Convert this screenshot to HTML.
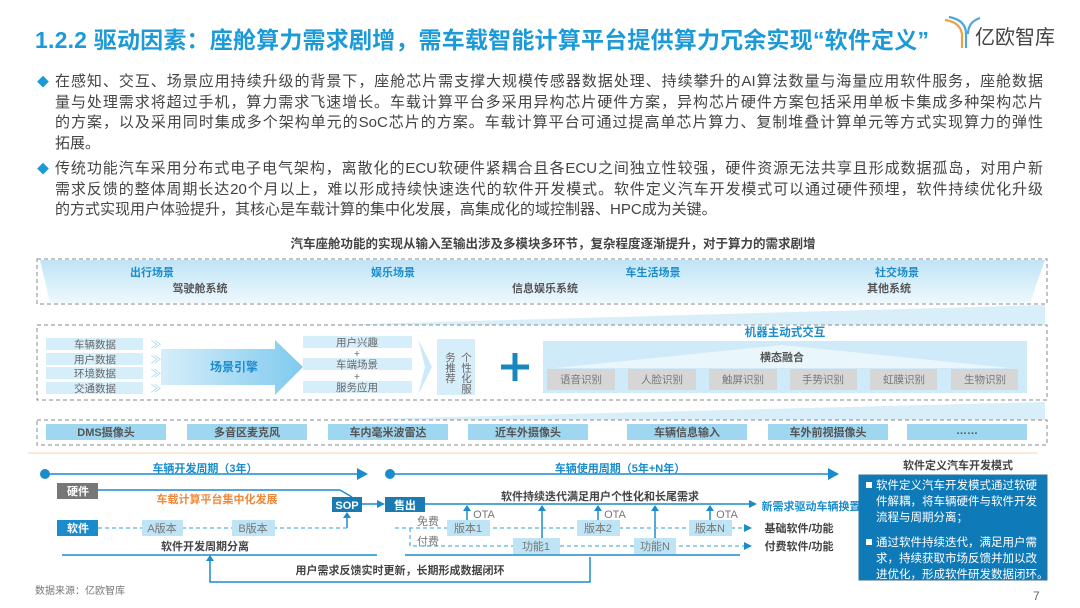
<!DOCTYPE html>
<html><head><meta charset="utf-8"><style>
body{margin:0;width:1080px;height:608px;background:#fff;overflow:hidden;font-family:"Liberation Sans","Noto Sans CJK SC",sans-serif;position:relative}
.t{position:absolute;left:35px;top:21px;font-size:23px;font-weight:bold;color:#1c9ad8;white-space:nowrap;letter-spacing:0.2px}
.p{position:absolute;left:55px;width:988px;font-size:15px;line-height:20.7px;color:#444}
.p div{text-align:justify;text-align-last:justify;white-space:nowrap}
.p div.l{text-align-last:left}
.p:before{content:"◆";position:absolute;left:-18px;top:0;color:#1c9ad8;font-size:12px}
svg{position:absolute;left:0;top:0}
svg text{font-family:"Liberation Sans","Noto Sans CJK SC",sans-serif}
</style></head><body>
<div class="t">1.2.2 驱动因素：座舱算力需求剧增，需车载智能计算平台提供算力冗余实现“软件定义”</div>
<div class="p" style="top:72px"><div>在感知、交互、场景应用持续升级的背景下，座舱芯片需支撑大规模传感器数据处理、持续攀升的AI算法数量与海量应用软件服务，座舱数据</div><div>量与处理需求将超过手机，算力需求飞速增长。车载计算平台多采用异构芯片硬件方案，异构芯片硬件方案包括采用单板卡集成多种架构芯片</div><div>的方案，以及采用同时集成多个架构单元的SoC芯片的方案。车载计算平台可通过提高单芯片算力、复制堆叠计算单元等方式实现算力的弹性</div><div class="l">拓展。</div></div>
<div class="p" style="top:159px"><div>传统功能汽车采用分布式电子电气架构，离散化的ECU软硬件紧耦合且各ECU之间独立性较强，硬件资源无法共享且形成数据孤岛，对用户新</div><div>需求反馈的整体周期长达20个月以上，难以形成持续快速迭代的软件开发模式。软件定义汽车开发模式可以通过硬件预埋，软件持续优化升级</div><div class="l">的方式实现用户体验提升，其核心是车载计算的集中化发展，高集成化的域控制器、HPC成为关键。</div></div>
<svg width="1080" height="608" viewBox="0 0 1080 608">
<defs>
<linearGradient id="lb" x1="0" y1="0" x2="0" y2="1"><stop offset="0" stop-color="#bfe4f6"/><stop offset="1" stop-color="#eef8fd"/></linearGradient>
<linearGradient id="ar" x1="0" y1="0" x2="1" y2="0"><stop offset="0" stop-color="#d6eefa"/><stop offset="1" stop-color="#7fcaee"/></linearGradient>
<marker id="m" markerWidth="8" markerHeight="8" refX="6" refY="4" orient="auto" markerUnits="userSpaceOnUse"><path d="M0,0 L8,4 L0,8z" fill="#1a8ccc"/></marker>
</defs>
<g fill="none" stroke-width="2.2"><path d="M945,20 Q960,22 962,34 L962,48" stroke="#f0a040"/><path d="M949,17 Q966,20 966,34 L966,48" stroke="#4aa8e0"/><path d="M980,18 Q968,22 968,34" stroke="#4aa8e0"/></g>
<text x="975" y="44" font-size="20" fill="#444">亿欧智库</text>
<text x="553" y="248" font-size="12.5" font-weight="bold" fill="#444" text-anchor="middle">汽车座舱功能的实现从输入至输出涉及多模块多环节，复杂程度逐渐提升，对于算力的需求剧增</text>
<polygon points="40,260 1045,260 1030,303 50,303" fill="url(#lb)"/>
<rect x="37" y="259" width="1010" height="45" fill="none" stroke="#888" stroke-dasharray="4,3"/>
<g font-size="11" font-weight="bold" text-anchor="middle">
<text x="152" y="276" fill="#1a8ccc">出行场景</text><text x="200" y="292" fill="#555">驾驶舱系统</text>
<text x="393" y="276" fill="#1a8ccc">娱乐场景</text><text x="545" y="292" fill="#555">信息娱乐系统</text>
<text x="653" y="276" fill="#1a8ccc">车生活场景</text>
<text x="897" y="276" fill="#1a8ccc">社交场景</text><text x="889" y="292" fill="#555">其他系统</text>
</g>
<polygon points="330,325 1045,305 1045,325" fill="#d8eff9"/>
<rect x="37" y="325" width="1010" height="75" fill="none" stroke="#888" stroke-dasharray="4,3"/>
<g font-size="10.5" fill="#666" text-anchor="middle">
<rect x="46" y="338" width="97" height="12" fill="#d6eef9"/><text x="95" y="348">车辆数据</text>
<rect x="46" y="353" width="97" height="12" fill="#d6eef9"/><text x="95" y="363">用户数据</text>
<rect x="46" y="367" width="97" height="12" fill="#d6eef9"/><text x="95" y="377">环境数据</text>
<rect x="46" y="382" width="97" height="12" fill="#d6eef9"/><text x="95" y="392">交通数据</text>
<g fill="#9fd3ef" font-size="11"><text x="156" y="348">≫</text><text x="156" y="363">≫</text><text x="156" y="377">≫</text><text x="156" y="392">≫</text></g>
<polygon points="161,349 275,349 275,340 303,367 275,395 275,385 161,385" fill="url(#ar)"/>
<text x="234" y="371" font-size="12" font-weight="bold" fill="#1a8ccc">场景引擎</text>
<rect x="303" y="336" width="109" height="12" fill="#d6eef9"/><text x="357" y="346">用户兴趣</text>
<text x="357" y="357">+</text>
<rect x="303" y="358" width="109" height="12" fill="#d6eef9"/><text x="357" y="368">车端场景</text>
<text x="357" y="380">+</text>
<rect x="303" y="381" width="109" height="12" fill="#d6eef9"/><text x="357" y="391">服务应用</text>
<polygon points="418,339 432,367 418,395 425,367" fill="#cde9f7"/>
<rect x="437" y="339" width="38" height="56" fill="#d6eef9"/>
<text x="466" y="352" font-size="10.5" text-anchor="start" style="writing-mode:vertical-rl">个性化服</text>
<text x="450" y="352" font-size="10.5" text-anchor="start" style="writing-mode:vertical-rl">务推荐</text>
</g>
<path d="M515,353 V381 M501,367 H529" stroke="#1787c0" stroke-width="5"/>
<text x="785" y="336" font-size="11.5" font-weight="bold" fill="#1a8ccc" text-anchor="middle">机器主动式交互</text>
<rect x="543" y="341" width="484" height="52" fill="#cfeaf8"/>
<polygon points="555,368 782,345 1010,368" fill="#e9f6fc"/>
<text x="782" y="361" font-size="11" font-weight="bold" fill="#555" text-anchor="middle">横态融合</text>
<g font-size="10.5" fill="#777" text-anchor="middle">
<rect x="547" y="369" width="68" height="21" fill="#d6d6d6"/><text x="581" y="383">语音识别</text>
<rect x="628" y="369" width="68" height="21" fill="#d6d6d6"/><text x="662" y="383">人脸识别</text>
<rect x="709" y="369" width="68" height="21" fill="#d6d6d6"/><text x="743" y="383">触屏识别</text>
<rect x="790" y="369" width="67" height="21" fill="#d6d6d6"/><text x="823" y="383">手势识别</text>
<rect x="870" y="369" width="67" height="21" fill="#d6d6d6"/><text x="904" y="383">虹膜识别</text>
<rect x="951" y="369" width="67" height="21" fill="#d6d6d6"/><text x="985" y="383">生物识别</text>
</g>
<polygon points="330,420 1045,402 1045,420" fill="#d8eff9"/>
<rect x="37" y="420" width="1010" height="25" fill="none" stroke="#888" stroke-dasharray="4,3"/>
<g font-size="11" font-weight="bold" fill="#555" text-anchor="middle">
<rect x="46" y="424" width="120" height="16" fill="#9fd6f0"/><text x="106" y="436">DMS摄像头</text>
<rect x="187" y="424" width="120" height="16" fill="#9fd6f0"/><text x="247" y="436">多音区麦克风</text>
<rect x="328" y="424" width="120" height="16" fill="#9fd6f0"/><text x="388" y="436">车内毫米波雷达</text>
<rect x="468" y="424" width="120" height="16" fill="#9fd6f0"/><text x="528" y="436">近车外摄像头</text>
<rect x="627" y="424" width="120" height="16" fill="#9fd6f0"/><text x="687" y="436">车辆信息输入</text>
<rect x="768" y="424" width="120" height="16" fill="#9fd6f0"/><text x="828" y="436">车外前视摄像头</text>
<rect x="907" y="424" width="120" height="16" fill="#9fd6f0"/><text x="967" y="434">……</text>
</g>
<line x1="28" y1="453" x2="1037" y2="453" stroke="#f8dcc0" stroke-width="1.2"/>
<g stroke="#1a8ccc" stroke-width="1.5" fill="none">
<line x1="45" y1="474" x2="358" y2="474"/><line x1="390" y1="474" x2="830" y2="474"/>
<line x1="98" y1="490" x2="340" y2="490"/><line x1="340" y1="490" x2="352" y2="497"/>
<line x1="362" y1="504" x2="383" y2="504" marker-end="url(#m)"/>
<line x1="425" y1="504" x2="755" y2="504" marker-end="url(#m)"/>
<line x1="62" y1="555" x2="377" y2="555"/><line x1="405" y1="555" x2="740" y2="555"/>
<polyline points="590,557 590,582 210,582 210,560"/>
<line x1="347" y1="528" x2="347" y2="515"/>
<line x1="467" y1="520" x2="467" y2="508"/><line x1="598" y1="520" x2="598" y2="508"/><line x1="710" y1="520" x2="710" y2="508"/>
<line x1="542" y1="538" x2="542" y2="508"/><line x1="655" y1="538" x2="655" y2="508"/>
</g>
<g fill="#1a8ccc"><circle cx="45" cy="474" r="5"/><circle cx="390" cy="474" r="5"/>
<path d="M357,468 L368,474 L357,480z"/><path d="M828,468 L839,474 L828,480z"/>
<path d="M206,561 L210,555 L214,561z"/><path d="M343,518 L347,512 L351,518z"/>
<path d="M463,511 L467,505 L471,511z"/><path d="M594,511 L598,505 L602,511z"/><path d="M706,511 L710,505 L714,511z"/>
<path d="M538,511 L542,505 L546,511z"/><path d="M651,511 L655,505 L659,511z"/></g>
<g stroke="#5ab4e0" stroke-width="1.3" stroke-dasharray="4,3" fill="none">
<line x1="98" y1="528" x2="347" y2="528"/>
<line x1="395" y1="528" x2="750" y2="528" marker-end="url(#m)"/>
<polyline points="410,528 410,546 750,546" marker-end="url(#m)"/>
</g>
<g font-size="11" font-weight="bold" text-anchor="middle">
<text x="205" y="472" fill="#1a8ccc">车辆开发周期（3年）</text>
<text x="620" y="472" fill="#1a8ccc">车辆使用周期（5年+N年）</text>
<rect x="57" y="483" width="41" height="16" fill="#777"/><text x="78" y="495" fill="#fff">硬件</text>
<text x="217" y="503" fill="#f0883a">车载计算平台集中化发展</text>
<rect x="332" y="497" width="30" height="15" fill="#1a7bb3"/><text x="347" y="509" fill="#fff">SOP</text>
<rect x="385" y="497" width="40" height="15" fill="#1a7bb3"/><text x="405" y="509" fill="#fff">售出</text>
<text x="600" y="500" fill="#444">软件持续迭代满足用户个性化和长尾需求</text>
<text x="811" y="510" fill="#1a8ccc">新需求驱动车辆换置</text>
<rect x="57" y="520" width="41" height="16" fill="#1a8ccc"/><text x="78" y="532" fill="#fff">软件</text>
<text x="205" y="550" fill="#444">软件开发周期分离</text>
<text x="400" y="574" fill="#444">用户需求反馈实时更新，长期形成数据闭环</text>
<text x="799" y="532" fill="#444">基础软件/功能</text>
<text x="799" y="550" fill="#444">付费软件/功能</text>
<text x="958" y="469" fill="#444">软件定义汽车开发模式</text>
</g>
<g font-size="11" fill="#777" text-anchor="middle">
<rect x="142" y="520" width="41" height="16" fill="#bfe4f6"/><text x="162" y="532">A版本</text>
<rect x="232" y="520" width="43" height="16" fill="#bfe4f6"/><text x="253" y="532">B版本</text>
<rect x="447" y="520" width="43" height="16" fill="#bfe4f6"/><text x="468" y="532">版本1</text>
<rect x="577" y="520" width="43" height="16" fill="#bfe4f6"/><text x="598" y="532">版本2</text>
<rect x="689" y="520" width="43" height="16" fill="#bfe4f6"/><text x="710" y="532">版本N</text>
<rect x="513" y="538" width="47" height="16" fill="#bfe4f6"/><text x="536" y="550">功能1</text>
<rect x="634" y="538" width="42" height="16" fill="#bfe4f6"/><text x="655" y="550">功能N</text>
<text x="428" y="525">免费</text><text x="428" y="545">付费</text>
<text x="484" y="518">OTA</text><text x="615" y="518">OTA</text><text x="727" y="518">OTA</text>
</g>
<rect x="859" y="475" width="188" height="105" fill="#0f7ab8" stroke="#3c6f90"/>
<g font-size="11.5" fill="#fff">
<rect x="866" y="482" width="6" height="6" fill="#fff"/>
<text x="876" y="489">软件定义汽车开发模式通过软硬</text><text x="876" y="505">件解耦，将车辆硬件与软件开发</text><text x="876" y="521">流程与周期分离；</text>
<rect x="866" y="539" width="6" height="6" fill="#fff"/>
<text x="876" y="546">通过软件持续迭代，满足用户需</text><text x="876" y="562">求，持续获取市场反馈并加以改</text><text x="876" y="578">进优化，形成软件研发数据闭环。</text>
</g>
<text x="35" y="594" font-size="10" fill="#777">数据来源：亿欧智库</text>
<text x="1033" y="600" font-size="12" fill="#666">7</text>
</svg>
</body></html>
